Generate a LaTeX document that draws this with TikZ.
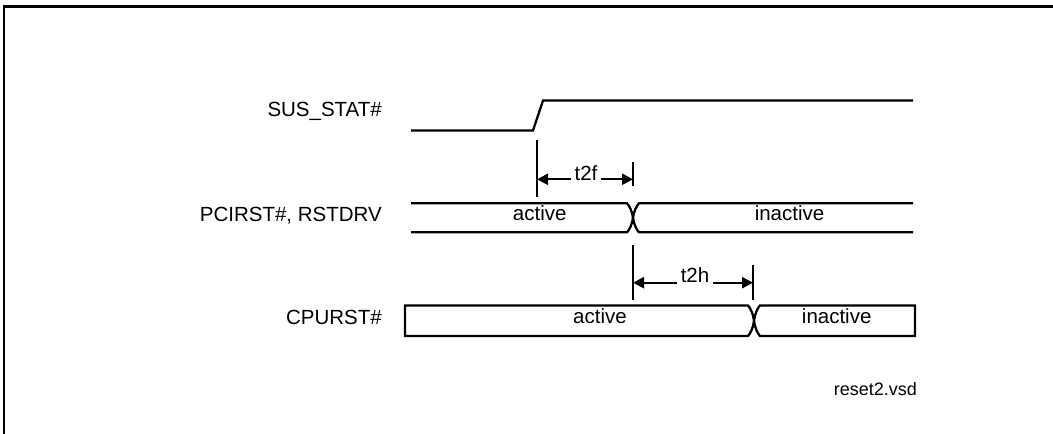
\documentclass[tikz,border=0pt]{standalone}
\usepackage{fontspec}
\setmainfont{Liberation Sans}
\usetikzlibrary{arrows.meta}
\begin{document}
\begin{tikzpicture}[x=1pt,y=-1pt,
  lbl/.style={inner sep=0pt, font=\fontsize{20.5}{24}\selectfont},
  fname/.style={inner sep=0pt, font=\fontsize{18}{22}\selectfont},
  sig/.style={line width=2.3pt, line join=miter},
  frameline/.style={line width=2.3pt},
  mark line/.style={line width=2.3pt},
  dim/.style={line width=2.3pt, -{Triangle[length=11pt,width=11pt]}}]
\useasboundingbox (0,0) rectangle (1053,434);
% frame
\coordinate (fbl) at (4,434);
\coordinate (ftl) at (4,6.5);
\coordinate (ftr) at (1053,6.5);
\draw[frameline] (fbl) -- (ftl) -- (ftr);
% signal labels
\node[lbl, anchor=base east] (lsus) at (382,116.7) {SUS\_STAT\#};
\node[lbl, anchor=base east] (lpci) at (382,221.7) {PCIRST\#, RSTDRV};
\node[lbl, anchor=base east] (lcpu) at (382,324.3) {CPURST\#};
% SUS_STAT#
\draw[sig] (411,130.5) -- (533,130.5) -- (543,100.5) -- (913,100.5);
% PCIRST bus
\draw[sig] (411,203.3) -- (627,203.3) .. controls (629,205) and (632.5,212) .. (633,217.8)
  .. controls (633.5,223.6) and (637,230.6) .. (639,232.3) -- (913,232.3);
\draw[sig] (411,232.3) -- (627,232.3) .. controls (629,230.6) and (632.5,223.6) .. (633,217.8)
  .. controls (633.5,212) and (637,205) .. (639,203.3) -- (913,203.3);
\node[lbl, anchor=base] (pa) at (539.7,220.7) {active};
\node[lbl, anchor=base] (pin) at (789.5,220.7) {inactive};
% CPURST box
\draw[sig] (748,305.5) -- (405,305.5) -- (405,336) -- (748,336)
  .. controls (750,334.3) and (753.5,327) .. (754,320.75)
  .. controls (754.5,314.5) and (758,307.2) .. (760,305.5) -- (915,305.5) -- (915,336) -- (760,336)
  .. controls (758,334.3) and (754.5,327) .. (754,320.75)
  .. controls (753.5,314.5) and (750,307.2) .. (748,305.5) -- cycle;
\node[lbl, anchor=base] (ca) at (600,323.3) {active};
\node[lbl, anchor=base] (cin) at (836.7,323.3) {inactive};
% t2f marker
\draw[mark line] (537,140) -- (537,197);
\draw[mark line] (633,162) -- (633,186);
\coordinate (f1) at (537,179.3);
\coordinate (f2) at (633,179.3);
\node[lbl, anchor=base, inner xsep=3pt] (t2f) at (586,180.5) {t2f};
\draw[dim] (t2f.west |- f1) -- (f1);
\draw[dim] (t2f.east |- f2) -- (f2);
% t2h marker
\draw[mark line] (633,245) -- (633,300);
\draw[mark line] (753,265) -- (753,300);
\coordinate (h1) at (633,282.7);
\coordinate (h2) at (753,282.7);
\node[lbl, anchor=base, inner xsep=4pt] (t2h) at (695,282) {t2h};
\draw[dim] (t2h.west |- h1) -- (h1);
\draw[dim] (t2h.east |- h2) -- (h2);
% file name
\node[fname, anchor=base east] (fn) at (917,395) {reset2.vsd};
\end{tikzpicture}
\end{document}
